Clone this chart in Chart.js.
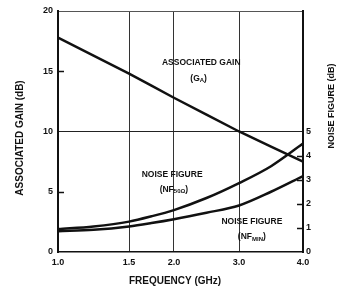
<!DOCTYPE html>
<html>
<head>
<meta charset="utf-8">
<script src="https://cdn.jsdelivr.net/npm/chart.js@4.4.0/dist/chart.umd.min.js"></script>
<style>
    html, body { margin: 0; padding: 0; background: #fff; }
    canvas { display: block; }
</style>
</head>
<body>
<canvas id="grafico" width="343" height="299"></canvas>
<script>
// dados
var frequencias = [1.0, 1.25, 1.5, 1.75, 2.0, 2.5, 3.0, 3.5, 4.0];
var ganhoAssociado = [17.8, 16.3, 14.8, 13.8, 12.8, 11.4, 10.0, 8.75, 7.5];
var nf50 = [0.95, 1.06, 1.26, 1.48, 1.74, 2.24, 2.86, 3.56, 4.5];
var nfMin = [0.86, 0.92, 1.06, 1.2, 1.36, 1.63, 1.93, 2.5, 3.15];

var ticksFreq = [1.0, 1.5, 2.0, 3.0, 4.0];
var ticksGanho = [0, 5, 10, 15, 20];
var ticksNF = [0, 1, 2, 3, 4, 5];

// o eixo de frequencia do grafico original nao e linear nem log,
// entao a escala interpola entre as posicoes dos ticks
var posTicksFreq = [0, 0.29, 0.473, 0.739, 1];

function warp(v) {
    for (var i = 0; i < ticksFreq.length - 1; i++) {
        if (v <= ticksFreq[i + 1] || i == ticksFreq.length - 2) {
            var t = (v - ticksFreq[i]) / (ticksFreq[i + 1] - ticksFreq[i]);
            return posTicksFreq[i] + t * (posTicksFreq[i + 1] - posTicksFreq[i]);
        }
    }
}

class WarpScale extends Chart.LinearScale {
    getPixelForValue(value) {
        return this.getPixelForDecimal(warp(value));
    }
}
WarpScale.id = 'warp';
WarpScale.defaults = Chart.LinearScale.defaults;
Chart.register(WarpScale);

function pontos(ys) {
    return frequencias.map(function (f, i) { return { x: f, y: ys[i] }; });
}

var fonte = '"Liberation Sans", Arial, sans-serif';
var preto = '#111';

// textos, tracinhos e titulos desenhados por cima
const extras = {
    id: 'extras',
    afterDraw(chart) {
        const ctx = chart.ctx;
        const x = chart.scales.x, y = chart.scales.y, y2 = chart.scales.y2;
        const area = chart.chartArea;
        ctx.save();
        ctx.strokeStyle = preto;
        ctx.lineWidth = 1.5;
        // tracinhos para dentro
        [5, 15].forEach(function (v) {
            var py = Math.round(y.getPixelForValue(v)) + 0.5;
            ctx.beginPath(); ctx.moveTo(area.left, py); ctx.lineTo(area.left + 6, py); ctx.stroke();
        });
        [1, 2, 3, 4].forEach(function (v) {
            var py = Math.round(y2.getPixelForValue(v)) + 0.5;
            ctx.beginPath(); ctx.moveTo(area.right - 6, py); ctx.lineTo(area.right, py); ctx.stroke();
        });

        ctx.fillStyle = preto;
        ctx.textAlign = 'center';
        ctx.textBaseline = 'middle';

        // titulos dos eixos
        ctx.font = 'bold 10px ' + fonte;
        ctx.save();
        ctx.translate(20, 138);
        ctx.rotate(-Math.PI / 2);
        ctx.fillText('ASSOCIATED GAIN (dB)', 0, 0);
        ctx.restore();

        ctx.font = 'bold 9px ' + fonte;
        ctx.save();
        ctx.translate(332, 106);
        ctx.rotate(-Math.PI / 2);
        ctx.fillText('NOISE FIGURE (dB)', 0, 0);
        ctx.restore();

        ctx.font = 'bold 10px ' + fonte;
        ctx.fillText('FREQUENCY (GHz)', 175, 281);

        // rotulos das curvas
        ctx.font = 'bold 8.5px ' + fonte;
        ctx.fillText('ASSOCIATED GAIN', x.getPixelForValue(2.42), y.getPixelForValue(15.7));
        textoSub(ctx, '(G', 'A', ')', x.getPixelForValue(2.38), y.getPixelForValue(14.4));
        ctx.font = 'bold 8.5px ' + fonte;
        ctx.fillText('NOISE FIGURE', x.getPixelForValue(1.98), y.getPixelForValue(6.4));
        textoSub(ctx, '(NF', '50Ω', ')', x.getPixelForValue(2.0), y.getPixelForValue(5.2));
        ctx.font = 'bold 8.5px ' + fonte;
        ctx.fillText('NOISE FIGURE', x.getPixelForValue(3.2), y.getPixelForValue(2.5));
        textoSub(ctx, '(NF', 'MIN', ')', x.getPixelForValue(3.2), y.getPixelForValue(1.25));
        ctx.restore();
    }
};

function textoSub(ctx, base, sub, fim, cx, cy) {
    var fBase = 'bold 8.5px ' + fonte;
    var fSub = 'bold 6px ' + fonte;
    ctx.font = fBase;
    var w1 = ctx.measureText(base).width;
    var w3 = ctx.measureText(fim).width;
    ctx.font = fSub;
    var w2 = ctx.measureText(sub).width;
    var x0 = cx - (w1 + w2 + w3) / 2;
    ctx.textAlign = 'left';
    ctx.font = fBase;
    ctx.fillText(base, x0, cy);
    ctx.font = fSub;
    ctx.fillText(sub, x0 + w1, cy + 2);
    ctx.font = fBase;
    ctx.fillText(fim, x0 + w1 + w2, cy);
    ctx.textAlign = 'center';
}

const dados = {
    datasets: [
        {
            label: 'Associated gain',
            data: pontos(ganhoAssociado),
            yAxisID: 'y',
            borderColor: preto,
            borderWidth: 2.5,
            pointRadius: 0,
            tension: 0
        },
        {
            label: 'NF 50 ohm',
            data: pontos(nf50),
            yAxisID: 'y2',
            borderColor: preto,
            borderWidth: 2.5,
            pointRadius: 0,
            cubicInterpolationMode: 'monotone'
        },
        {
            label: 'NF min',
            data: pontos(nfMin),
            yAxisID: 'y2',
            borderColor: preto,
            borderWidth: 2.5,
            pointRadius: 0,
            cubicInterpolationMode: 'monotone'
        }
    ]
};

const config = {
    type: 'line',
    data: dados,
    options: {
        responsive: false,
        animation: false,
        devicePixelRatio: 1,
        layout: { padding: { top: 11, left: 0, right: 0, bottom: 0 } },
        plugins: {
            legend: { display: false },
            tooltip: { enabled: false }
        },
        scales: {
            x: {
                type: 'warp',
                min: 1,
                max: 4,
                afterBuildTicks: function (scale) {
                    scale.ticks = ticksFreq.map(function (v) { return { value: v }; });
                },
                afterFit: function (scale) { scale.height = 47; },
                ticks: {
                    callback: function (v) { return Number(v).toFixed(1); },
                    font: { family: fonte, size: 9, weight: 'bold' },
                    color: preto,
                    padding: 5,
                    maxRotation: 0,
                    autoSkip: false
                },
                grid: {
                    drawTicks: false,
                    lineWidth: 1,
                    color: function (c) {
                        var v = c.tick ? c.tick.value : null;
                        return (v > 1 && v < 4) ? '#333' : 'rgba(0,0,0,0)';
                    }
                },
                border: { display: true, color: preto, width: 1.5 }
            },
            y: {
                position: 'left',
                min: 0,
                max: 20,
                afterBuildTicks: function (scale) {
                    scale.ticks = ticksGanho.map(function (v) { return { value: v }; });
                },
                afterFit: function (scale) { scale.width = 58; },
                ticks: {
                    font: { family: fonte, size: 9, weight: 'bold' },
                    color: preto,
                    padding: 5
                },
                grid: {
                    drawTicks: false,
                    lineWidth: 1,
                    color: function (c) {
                        var v = c.tick ? c.tick.value : null;
                        if (v == 10) return '#222';
                        if (v == 20) return '#555';
                        return 'rgba(0,0,0,0)';
                    }
                },
                border: { display: true, color: preto, width: 2 }
            },
            y2: {
                position: 'right',
                min: 0,
                max: 10,
                afterBuildTicks: function (scale) {
                    scale.ticks = ticksNF.map(function (v) { return { value: v }; });
                },
                afterFit: function (scale) { scale.width = 40; },
                ticks: {
                    font: { family: fonte, size: 9, weight: 'bold' },
                    color: preto,
                    padding: 3
                },
                grid: { display: false, drawTicks: false },
                border: { display: true, color: preto, width: 2 }
            }
        }
    },
    plugins: [extras]
};

const grafico = new Chart(document.getElementById('grafico'), config);
</script>
</body>
</html>
